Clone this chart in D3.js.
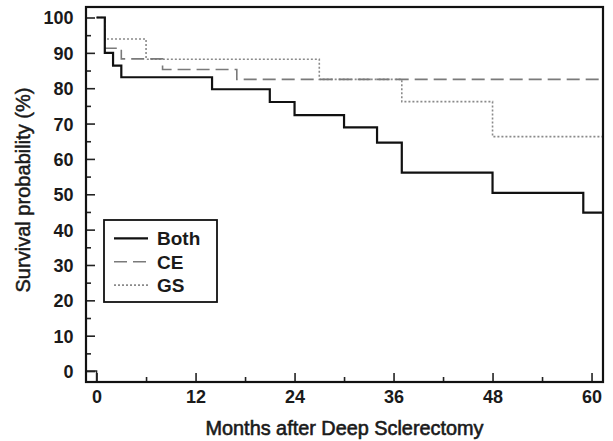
<!DOCTYPE html>
<html>
<head>
<meta charset="utf-8">
<script src="https://cdn.jsdelivr.net/npm/d3@7"></script>
<style>
  body { margin: 0; background: #fff; }
  svg { font-family: "Liberation Sans", Arial, sans-serif; }
</style>
</head>
<body>
<svg id="chart" width="613" height="441"></svg>
<script>
// Kaplan-Meier steps, time in months, survival in %
const bothTimes = [0, 1, 2, 3, 14, 21, 24, 30, 34, 37, 48, 59];
const bothSurv  = [100, 90, 86.4, 83.1, 79.7, 76.1, 72.4, 68.9, 64.6, 56.1, 50.4, 44.8];
const ceTimes = [0, 1, 3, 8, 17];
const ceSurv  = [100, 91.3, 88.3, 85.3, 82.5];
const gsTimes = [0, 1, 6, 27, 37, 48];
const gsSurv  = [100, 93.9, 88.2, 82.5, 76.2, 66.3];

const seriesNames = ["Both", "CE", "GS"];
const xTicks = [0, 12, 24, 36, 48, 60];
const xMinor = [6, 18, 30, 42, 54];
const yTicks = [0, 10, 20, 30, 40, 50, 60, 70, 80, 90, 100];
const yMinor = [5, 15, 25, 35, 45, 55, 65, 75, 85, 95];

const pLeft = 86, pRight = 603, pTop = 7, pBottom = 382;

const svg = d3.select("#chart");

const x = d3.scaleLinear().domain([-1.28, 61.39]).range([pLeft, pRight]);
const y = d3.scaleLinear().domain([-3.1, 102.97]).range([pBottom, pTop]);

const styles = {
  Both: { stroke: "#111", width: 2.2, dash: null },
  CE:   { stroke: "#7a7a7a", width: 1.6, dash: "13,6" },
  GS:   { stroke: "#8a8a8a", width: 1.6, dash: "2,2" }
};

const series = [
  { name: "Both", t: bothTimes, s: bothSurv },
  { name: "CE", t: ceTimes, s: ceSurv },
  { name: "GS", t: gsTimes, s: gsSurv }
];

svg.append("defs").append("clipPath").attr("id", "plotclip")
  .append("rect").attr("x", pLeft).attr("y", pTop)
  .attr("width", pRight - pLeft).attr("height", pBottom - pTop);

const line = d3.line()
  .x(d => x(d[0]))
  .y(d => y(d[1]))
  .curve(d3.curveStepAfter);

const plot = svg.append("g").attr("clip-path", "url(#plotclip)");

// draw GS and CE first, Both on top
[series[2], series[1], series[0]].forEach(sr => {
  const pts = sr.t.map((t, i) => [t, sr.s[i]]);
  pts.push([x.domain()[1], sr.s[sr.s.length - 1]]);
  const st = styles[sr.name];
  plot.append("path")
    .attr("d", line(pts))
    .attr("fill", "none")
    .attr("stroke", st.stroke)
    .attr("stroke-width", st.width)
    .attr("stroke-dasharray", st.dash);
});

// little box at origin
plot.append("path")
  .attr("d", `M${pLeft},${y(0)}H${x(0)}V${pBottom}`)
  .attr("fill", "none")
  .attr("stroke", "#222")
  .attr("stroke-width", 1.5);

// axes, ticks inward
const xAxis = svg.append("g").attr("transform", `translate(0,${pBottom})`)
  .call(d3.axisBottom(x).tickValues(xTicks).tickSize(-9).tickPadding(8.5));
svg.append("g").attr("transform", `translate(0,${pBottom})`)
  .call(d3.axisBottom(x).tickValues(xMinor).tickSize(-5).tickFormat(""));
const yAxis = svg.append("g").attr("transform", `translate(${pLeft},0)`)
  .call(d3.axisLeft(y).tickValues(yTicks).tickSize(-9).tickPadding(12.5));
svg.append("g").attr("transform", `translate(${pLeft},0)`)
  .call(d3.axisLeft(y).tickValues(yMinor).tickSize(-5).tickFormat(""));

svg.selectAll(".domain").remove();
svg.selectAll(".tick line").attr("stroke", "#222").attr("stroke-width", 1.6);

xAxis.selectAll(".tick text")
  .attr("font-size", 18).attr("font-weight", "bold").attr("fill", "#1a1a1a");
yAxis.selectAll(".tick text")
  .attr("font-size", 18).attr("font-weight", "bold").attr("fill", "#1a1a1a")
  .attr("dy", "0.36em");

// frame
svg.append("rect")
  .attr("x", pLeft).attr("y", pTop)
  .attr("width", pRight - pLeft).attr("height", pBottom - pTop)
  .attr("fill", "none").attr("stroke", "#111").attr("stroke-width", 2.2);

// axis titles
svg.append("text")
  .attr("x", (pLeft + pRight) / 2).attr("y", 434.5)
  .attr("text-anchor", "middle")
  .attr("font-size", 20).attr("fill", "#1a1a1a")
  .attr("stroke", "#1a1a1a").attr("stroke-width", 0.6)
  .attr("textLength", 278).attr("lengthAdjust", "spacingAndGlyphs")
  .text("Months after Deep Sclerectomy");

svg.append("text")
  .attr("transform", "translate(30,190) rotate(-90)")
  .attr("text-anchor", "middle")
  .attr("font-size", 20).attr("fill", "#1a1a1a")
  .attr("stroke", "#1a1a1a").attr("stroke-width", 0.5)
  .attr("textLength", 205).attr("lengthAdjust", "spacingAndGlyphs")
  .text("Survival probability (%)");

// legend
const legend = svg.append("g");
legend.append("rect")
  .attr("x", 104).attr("y", 220).attr("width", 113).attr("height", 82)
  .attr("fill", "#fff").attr("stroke", "#111").attr("stroke-width", 1.8);

seriesNames.forEach((name, i) => {
  const st = styles[name];
  const cy = 238.3 + i * 23.4;
  legend.append("line")
    .attr("x1", 114).attr("x2", 148).attr("y1", cy).attr("y2", cy)
    .attr("stroke", st.stroke).attr("stroke-width", st.width)
    .attr("stroke-dasharray", st.dash);
  legend.append("text")
    .attr("x", 157).attr("y", cy + 7)
    .attr("font-size", 19).attr("font-weight", "bold").attr("fill", "#1a1a1a")
    .text(name);
});
</script>
</body>
</html>
